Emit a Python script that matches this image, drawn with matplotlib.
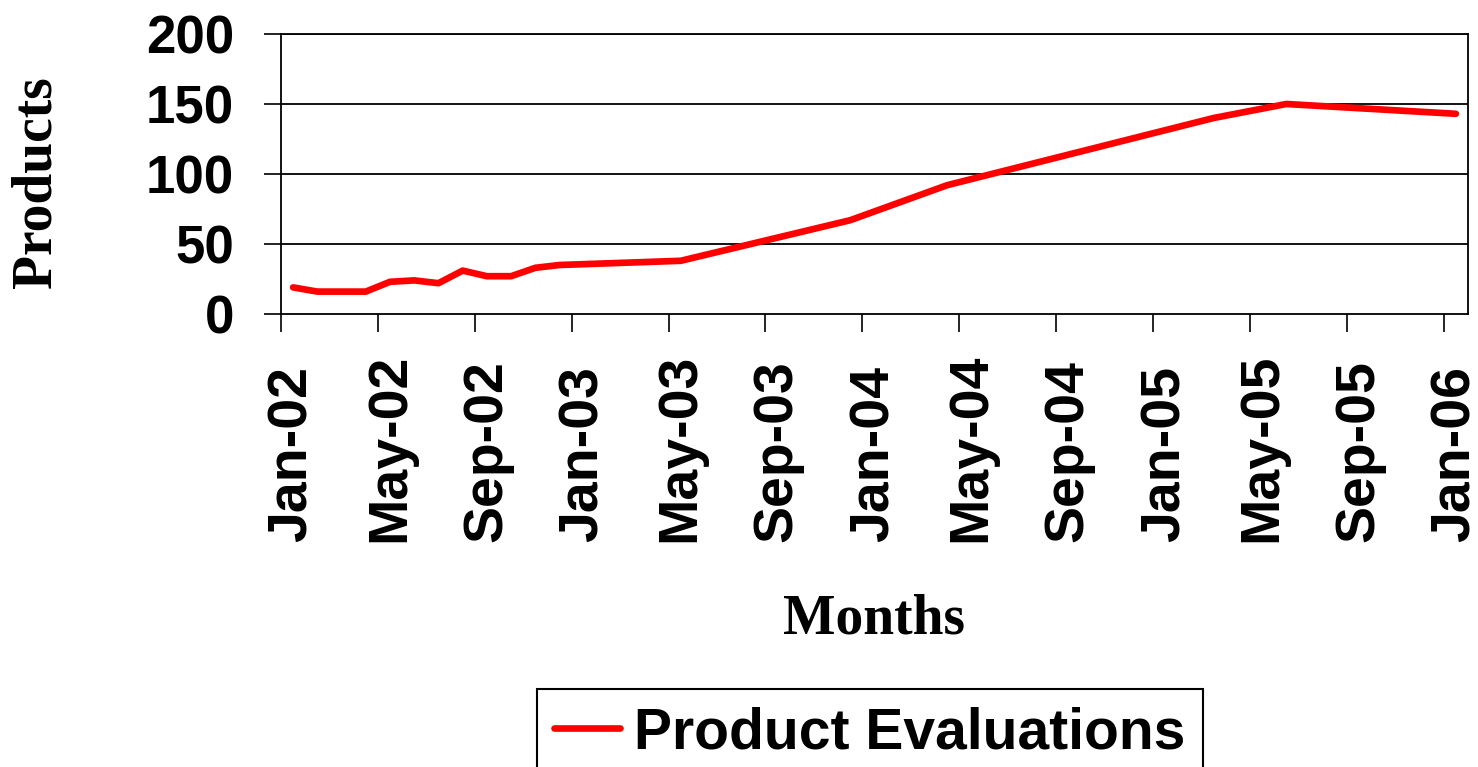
import matplotlib

matplotlib.use("Agg")

import matplotlib.pyplot as plt
import pandas as pd

# observed months and product evaluation counts
obs_months = [
    "2002-01", "2002-02", "2002-03", "2002-04", "2002-05", "2002-06",
    "2002-07", "2002-08", "2002-09", "2002-10", "2002-11", "2002-12",
    "2003-05", "2003-12", "2004-04", "2005-03", "2005-06", "2006-01",
]
evaluations = [19, 16, 16, 16, 23, 24, 22, 31, 27, 27, 33, 35, 38, 67, 92, 140, 150, 143]

tick_labels = [
    "Jan-02", "May-02", "Sep-02", "Jan-03", "May-03", "Sep-03", "Jan-04",
    "May-04", "Sep-04", "Jan-05", "May-05", "Sep-05", "Jan-06",
]
y_ticks = [0, 50, 100, 150, 200]

SANS = "Liberation Sans"
SERIF = "Liberation Serif"


def month_index(months, start="2002-01"):
    d = pd.to_datetime(months)
    s = pd.Timestamp(start)
    return list((d.year - s.year) * 12 + (d.month - s.month))


def main() -> None:
    W, H = 1478, 767
    fig = plt.figure(figsize=(W / 100, H / 100), dpi=100)
    ax = fig.add_axes([281 / W, 1 - 314 / H, (1468 - 281) / W, (314 - 34) / H])

    x = month_index(obs_months)
    ax.plot(x, evaluations, color="#ff0000", lw=4.8,
            solid_capstyle="round", solid_joinstyle="round",
            label="Product Evaluations", zorder=3)

    n_months = len(tick_labels) * 4 - 3
    ax.set_xlim(-0.5, n_months - 0.5)
    ax.set_ylim(0, 200)

    # y axis
    ax.set_yticks(y_ticks)
    ax.set_yticklabels([str(v) for v in y_ticks], fontfamily=SANS,
                       fontweight="bold", fontsize=38)
    ax.tick_params(axis="y", length=12, width=1.2, pad=22, direction="out")
    for v in y_ticks[1:]:
        ax.axhline(v, color="black", lw=1.3, zorder=1)

    # x axis: tick marks between categories, labels on month centres
    ax.set_xticks([i * 4 - 0.5 for i in range(len(tick_labels))])
    ax.set_xticklabels([])
    ax.tick_params(axis="x", length=13, width=1.2, direction="out")
    trans = ax.get_xaxis_transform()
    for i, lab in enumerate(tick_labels):
        ax.text(i * 4, -0.814, lab, transform=trans, rotation=90,
                ha="center", va="bottom", fontfamily=SANS,
                fontweight="bold", fontsize=40)

    for sp in ax.spines.values():
        sp.set_color("black")
        sp.set_linewidth(1.3)

    fig.text(37 / W, 1 - 182 / H, "Products", rotation=90, ha="center",
             va="center", fontfamily=SERIF, fontweight="bold", fontsize=40)
    fig.text(874 / W, 1 - 633 / H, "Months", ha="center", va="baseline",
             fontfamily=SERIF, fontweight="bold", fontsize=40)

    leg = fig.legend(loc="upper left", bbox_to_anchor=(537 / W, 1 - 689 / H),
                     bbox_transform=fig.transFigure, borderaxespad=0,
                     prop={"family": SANS, "weight": "bold", "size": 41},
                     handlelength=1.15, handletextpad=0.26, borderpad=0.3,
                     fancybox=False, framealpha=1, edgecolor="black")
    leg.get_frame().set_linewidth(1.5)

    fig.savefig("out.png", dpi=100)
    plt.close(fig)


if __name__ == "__main__":
    main()
